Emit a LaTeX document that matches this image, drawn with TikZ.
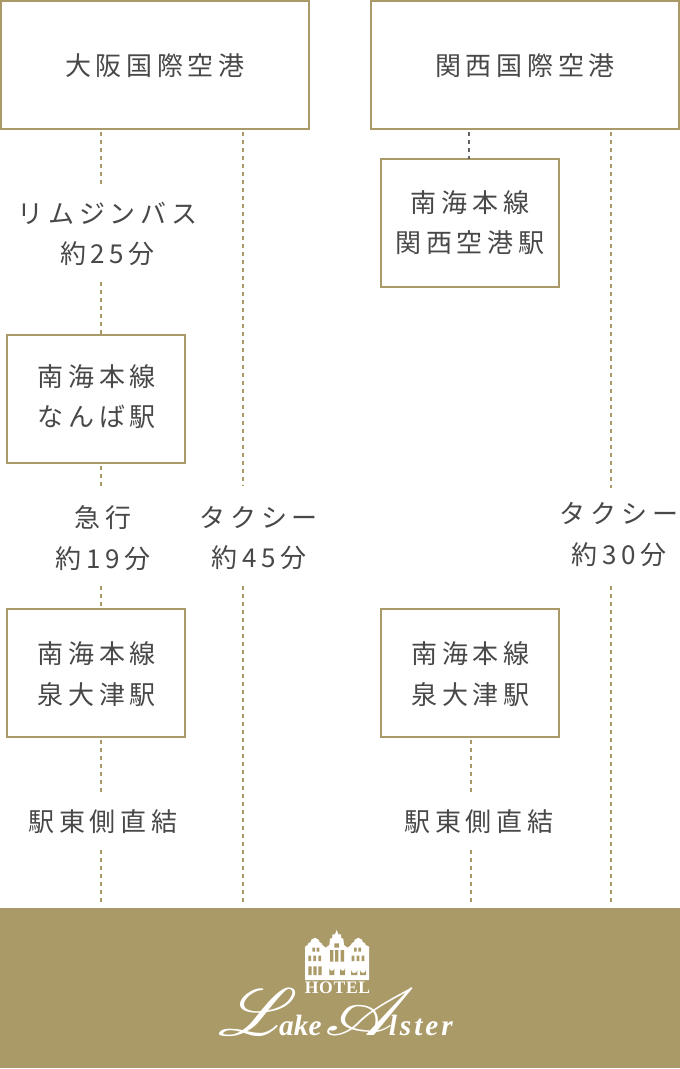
\documentclass[tikz,border=0pt]{standalone}
\usepackage{fontspec}
\usepackage{mathrsfs}
\newfontfamily\jp[LetterSpace=18]{Noto Sans CJK JP}
\newfontfamily\logoserif[LetterSpace=4]{Liberation Serif}
\newfontfamily\logoscript{Liberation Serif}
\newfontfamily\logoscriptwide[LetterSpace=10]{Liberation Serif}
\definecolor{gold}{HTML}{AA9A68}
\definecolor{ink}{HTML}{484848}
\tikzset{
  place/.style={draw=gold,line width=1.5pt,fill=white,inner sep=0pt,outer sep=0pt,minimum width=133.5pt,minimum height=96pt,align=center,text=ink,font=\jp\fontsize{19.5}{30}\selectfont},
  airport/.style={place,minimum width=231pt},
  lab/.style={inner sep=0pt,outer sep=0pt,align=center,text=ink,font=\jp\fontsize{19.5}{30.5}\selectfont,minimum height=60pt},
  lab1/.style={lab,minimum height=30pt},
  dotline/.style={draw=gold,line width=1.5pt,dash pattern=on 3pt off 3pt},
  greyline/.style={draw=ink!85,line width=1.5pt,dash pattern=on 3pt off 3pt},
}
\begin{document}
\begin{tikzpicture}[x=0.75pt,y=-0.75pt]
\useasboundingbox (0,0) rectangle (680,1069);
\fill[white] (0,0) rectangle (680,1069);
\node[fill=gold,inner sep=0pt,outer sep=0pt,minimum width=510pt,minimum height=120pt] (banner) at (340,988) {};
\node[airport] (itami) at (155,65.5) {大阪国際空港};
\node[airport] (kix) at (525,65.5) {関西国際空港};
\node[place] (kixst) at (470,223) {南海本線\\関西空港駅};
\node[place] (namba) at (96,399) {};
\node[lab] (nambat) at (97,396.5) {南海本線\\なんば駅};
\node[place] (izuL) at (96,673) {};
\node[lab] (izuLt) at (97,674) {南海本線\\泉大津駅};
\node[place] (izuR) at (470,673) {};
\node[lab] (izuRt) at (470.5,674) {南海本線\\泉大津駅};
\node[lab] (limo) at (107.5,234) {リムジンバス\\約25分};
\node[lab] (kyuko) at (103,538) {急行\\約19分};
\node[lab] (taxiL) at (259,538) {タクシー\\約45分};
\node[lab] (taxiR) at (619,534.5) {タクシー\\約30分};
\node[lab1] (eastL) at (103,821.5) {駅東側直結};
\node[lab1] (eastR) at (479,821.5) {駅東側直結};
\coordinate (xa) at (101,0);
\coordinate (xb) at (243,0);
\coordinate (xc) at (469,0);
\coordinate (xd) at (471,0);
\coordinate (xe) at (611,0);
% connectors
\draw[dotline] ([yshift=-2.25pt]itami.south -| xa) -- ([yshift=7.5pt]limo.north -| xa);
\draw[dotline] ([yshift=-6pt]limo.south -| xa) -- (namba.north -| xa);
\draw[dotline] ([yshift=-2.25pt]namba.south -| xa) -- ([yshift=9pt]kyuko.north -| xa);
\draw[dotline] ([yshift=-6pt]kyuko.south -| xa) -- (izuL.north -| xa);
\draw[dotline] ([yshift=-2.25pt]izuL.south -| xa) -- ([yshift=7pt]eastL.north -| xa);
\draw[dotline] ([yshift=-6.5pt]eastL.south -| xa) -- ([yshift=4.5pt]banner.north -| xa);
\draw[dotline] ([yshift=-2.25pt]itami.south -| xb) -- ([yshift=9pt]taxiL.north -| xb);
\draw[dotline] ([yshift=-6pt]taxiL.south -| xb) -- ([yshift=4.5pt]banner.north -| xb);
\draw[greyline] ([yshift=-2.25pt]kix.south -| xc) -- (kixst.north -| xc);
\draw[dotline] ([yshift=-2.25pt]kix.south -| xe) -- ([yshift=4.9pt]taxiR.north -| xe);
\draw[dotline] ([yshift=-8.6pt]taxiR.south -| xe) -- ([yshift=4.5pt]banner.north -| xe);
\draw[dotline] ([yshift=-2.25pt]izuR.south -| xd) -- ([yshift=7pt]eastR.north -| xd);
\draw[dotline] ([yshift=-6.5pt]eastR.south -| xd) -- ([yshift=4.5pt]banner.north -| xd);
% logo building
\begin{scope}[shift={(295,925)},x=0.25pt,y=-0.25pt]
\fill[white] (30,165)--(30,65)--(38,60)--(40,55)--(48,50)--(48,45)--(60,38)--(72,45)--(72,50)--(80,55)--(82,60)--(92,68)--(103,60)--(105,42)--(112,38)--(112,28)--(120,28)--(125,15)--(130,28)--(138,28)--(138,38)--(145,42)--(147,60)--(158,68)--(168,60)--(170,55)--(178,50)--(178,45)--(190,38)--(202,45)--(202,50)--(210,55)--(212,60)--(222,65)--(222,165)--cycle;
\fill[gold]
 (52,68) rectangle (60,80) (65,68) rectangle (73,80)
 (177,68) rectangle (185,80) (190,68) rectangle (198,80)
 (40,92) rectangle (48,108) (55,92) rectangle (63,108) (70,92) rectangle (78,108)
 (170,92) rectangle (178,108) (185,92) rectangle (193,108) (200,92) rectangle (208,108)
 (105,75) rectangle (115,110) (120,75) rectangle (130,110) (137,75) rectangle (147,110)
 (118,55) rectangle (132,68)
 (40,124) rectangle (50,150) (55,124) rectangle (65,150) (70,124) rectangle (80,150)
 (103,130) arc[start angle=180,end angle=0,radius=7.5] -- (118,150) -- (103,150) -- cycle
 (135,130) arc[start angle=180,end angle=0,radius=7.5] -- (150,150) -- (135,150) -- cycle
 (168,135) arc[start angle=180,end angle=0,radius=9.5] -- (187,150) -- (168,150) -- cycle
 (195,135) arc[start angle=180,end angle=0,radius=9] -- (213,150) -- (195,150) -- cycle;
\end{scope}
\node[inner sep=0pt,text=white,font=\logoserif\bfseries\fontsize{13.2}{13.2}\selectfont] (hotel) at (337.5,988) {HOTEL};
\node[inner sep=0pt,text=white,font=\logoscript\itshape\bfseries\fontsize{22}{22}\selectfont,anchor=base west] (brand) at (218,1035) {\scalebox{2.7}[2.4]{$\mathscr{L}$}\kern-14pt ake\hspace{2pt}\scalebox{3.2}[2.4]{$\mathscr{A}$}\kern-20pt {\logoscriptwide\itshape\bfseries lster}};
\end{tikzpicture}
\end{document}
